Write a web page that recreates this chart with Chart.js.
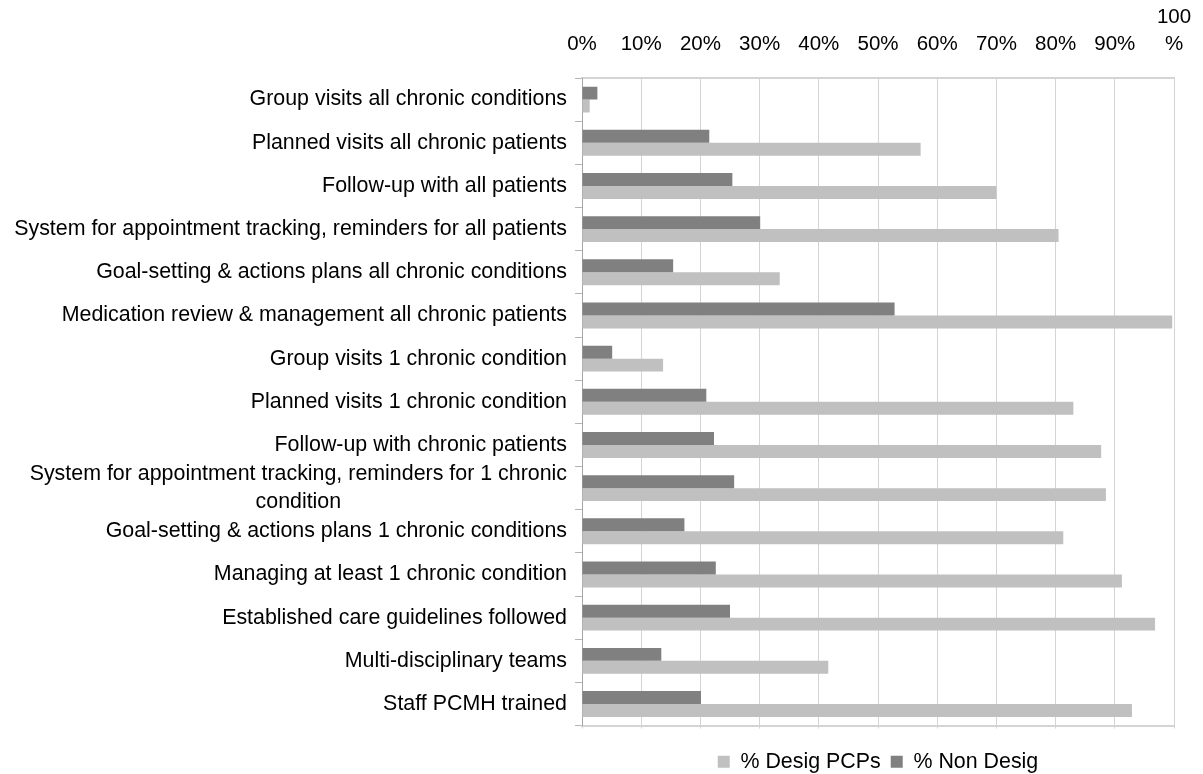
<!DOCTYPE html>
<html>
<head>
<meta charset="utf-8">
<script src="https://cdn.jsdelivr.net/npm/chart.js@4"></script>
<style>
	body { margin: 0; background: #fff; }
	canvas { display: block; }
</style>
</head>
<body>
<canvas id="chart" width="1203" height="774"></canvas>
<script>
let categories = [
	'Group visits all chronic conditions',
	'Planned visits all chronic patients',
	'Follow-up with all patients',
	'System for appointment tracking, reminders for all patients',
	'Goal-setting & actions plans all chronic conditions',
	'Medication review & management all chronic patients',
	'Group visits 1 chronic condition',
	'Planned visits 1 chronic condition',
	'Follow-up with chronic patients',
	['System for appointment tracking, reminders for 1 chronic', 'condition'],
	'Goal-setting & actions plans 1 chronic conditions',
	'Managing at least 1 chronic condition',
	'Established care guidelines followed',
	'Multi-disciplinary teams',
	'Staff PCMH trained',
]

let nonDesig = [2.6, 21.5, 25.4, 30.1, 15.4, 52.8, 5.1, 21.0, 22.3, 25.7, 17.3, 22.6, 25.0, 13.4, 20.1]
let desigPCPs = [1.3, 57.2, 70.0, 80.5, 33.4, 99.7, 13.7, 83.0, 87.7, 88.5, 81.3, 91.2, 96.8, 41.6, 92.9]

let xTicks = [0, 10, 20, 30, 40, 50, 60, 70, 80, 90, 100]

let fontFamily = "'Liberation Sans', Arial, sans-serif"

// the wrapped label: second line is centred under the first in the original
let labels = categories.map(function (c) {
	if (Array.isArray(c)) {
		return [c[0], c[1] + ' '.repeat(38)]
	}
	return c
})

let data = {
	labels: labels,
	datasets: [
		{
			label: '% Non Desig',
			data: nonDesig,
			backgroundColor: '#808080',
		},
		{
			label: '% Desig PCPs',
			data: desigPCPs,
			backgroundColor: '#c0c0c0',
		},
	],
}

let options = {
	indexAxis: 'y',
	responsive: false,
	animation: false,
	layout: {
		padding: { left: 0, right: 29, top: 0, bottom: -8.5 },
	},
	datasets: {
		bar: {
			categoryPercentage: 0.6,
			barPercentage: 1,
		},
	},
	scales: {
		x: {
			position: 'top',
			min: 0,
			max: 100,
			afterBuildTicks: function (scale) {
				scale.ticks = xTicks.map(function (v) { return { value: v } })
			},
			afterFit: function (scale) {
				scale.height = 78
				scale.paddingLeft = 0
				scale.paddingRight = 0
			},
			ticks: {
				padding: 20,
				color: '#000',
				font: { family: fontFamily, size: 20.5, lineHeight: 1.32 },
				maxRotation: 0,
				autoSkip: false,
				callback: function (v) {
					return v === 100 ? ['100', '%'] : v + '%'
				},
			},
			grid: {
				color: '#d4d4d4',
				drawTicks: false,
			},
			border: {
				display: true,
				color: '#d4d4d4',
				width: 2,
			},
		},
		x2: {
			type: 'linear',
			position: 'bottom',
			min: 0,
			max: 100,
			afterBuildTicks: function (scale) {
				scale.ticks = xTicks.map(function (v) { return { value: v } })
			},
			afterFit: function (scale) {
				scale.height = 15.5
				scale.paddingLeft = 0
				scale.paddingRight = 0
			},
			ticks: { display: false },
			grid: {
				drawOnChartArea: false,
				drawTicks: true,
				tickLength: 3,
				color: '#d4d4d4',
			},
			border: {
				display: true,
				color: '#d4d4d4',
				width: 2,
			},
		},
		y: {
			afterFit: function (scale) {
				scale.width = 582
			},
			ticks: {
				padding: 8,
				color: '#000',
				font: { family: fontFamily, size: 21.4, lineHeight: 1.27 },
				autoSkip: false,
			},
			grid: {
				offset: true,
				drawOnChartArea: false,
				drawTicks: true,
				tickLength: 7,
				color: '#b4b4b4',
			},
			border: {
				display: true,
				color: '#a6a6a6',
				width: 1,
			},
		},
	},
	plugins: {
		legend: {
			position: 'bottom',
			fullSize: false,
			reverse: true,
			labels: {
				boxWidth: 12,
				boxHeight: 12,
				padding: 10,
				color: '#000',
				font: { family: fontFamily, size: 21.4 },
			},
		},
		tooltip: { enabled: false },
	},
}

let chart = new Chart(document.getElementById('chart'), {
	type: 'bar',
	data: data,
	options: options,
})
</script>
</body>
</html>
